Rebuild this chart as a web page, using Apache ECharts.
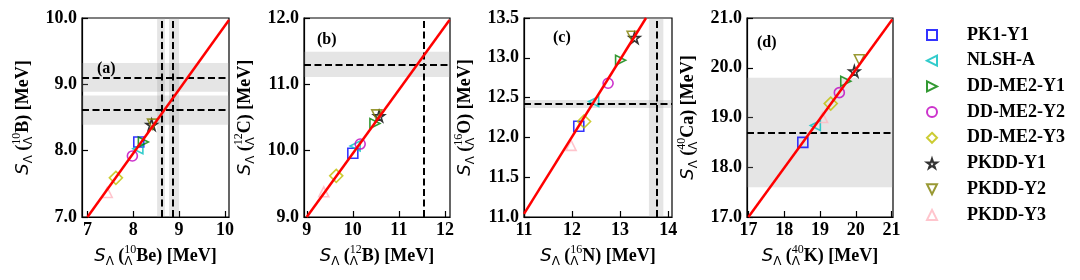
<!DOCTYPE html>
<html><head><meta charset="utf-8">
<script src="https://cdn.jsdelivr.net/npm/echarts@6/dist/echarts.min.js"></script>
<style>html,body{margin:0;padding:0;background:#fff}#c{width:1080px;height:280px}</style>
</head><body><div id="c"></div>
<script>
// ---------- data ----------
const models = ['PK1-Y1','NLSH-A','DD-ME2-Y1','DD-ME2-Y2','DD-ME2-Y3','PKDD-Y1','PKDD-Y2','PKDD-Y3'];
// panel (a): 10Be -> 10B
const aX = [8.12, 8.10, 8.22, 7.98, 7.62, 8.40, 8.42, 7.43];
const aY = [8.13, 8.03, 8.13, 7.92, 7.59, 8.39, 8.40, 7.37];
// panel (b): 12B -> 12C
const bX = [10.00, 10.05, 10.48, 10.16, 9.64, 10.57, 10.52, 9.37];
const bY = [9.96, 10.07, 10.41, 10.10, 9.62, 10.52, 10.54, 9.38];
// panel (c): 16N -> 16O
const cX = [12.14, 12.45, 13.01, 12.75, 12.25, 13.30, 13.25, 11.98];
const cY = [12.14, 12.45, 12.97, 12.68, 12.20, 13.25, 13.27, 11.90];
// panel (d): 40K -> 40Ca
const dX = [18.52, 18.87, 19.72, 19.54, 19.30, 19.96, 20.10, 19.07];
const dY = [18.50, 18.84, 19.73, 19.50, 19.28, 19.93, 20.16, 19.00];
// linear fit lines (endpoints)
const aFit = [[7.00, 7.00], [10.09, 9.97]];
const bFit = [[9.00, 9.00], [12.10, 11.97]];
const cFit = [[11.00, 11.04], [13.54, 13.50]];
const dFit = [[17.00, 17.00], [21.02, 20.97]];
// experimental values (dashed) and uncertainty bands
const aHLines = [9.10, 8.61];  const aHBands = [[8.89, 9.32], [8.39, 8.83]];
const aVLines = [8.63, 8.87];  const aVBands = [[8.52, 8.69], [8.78, 9.00]];
const bHLines = [11.30];       const bHBands = [[11.11, 11.49]];
const bVLines = [11.55];       const bVBands = [];
const cHLines = [12.42];       const cHBands = [[12.37, 12.47]];
const cVLines = [13.76];       const cVBands = [[13.60, 13.90]];
const dHLines = [18.70];       const dHBands = [[17.60, 19.80]];
const dVLines = [];            const dVBands = [];
// axis extents and tick labels
const aXRange = [6.88, 10.09], aYRange = [7, 10];
const bXRange = [8.94, 12.11], bYRange = [9, 12];
const cXRange = [11.0, 14.08], cYRange = [11, 13.5];
const dXRange = [16.96, 21.04], dYRange = [17, 21];
const aXTicks = [7, 8, 9, 10],  aYTicks = [7, 8, 9, 10];
const bXTicks = [9, 10, 11, 12], bYTicks = [9, 10, 11, 12];
const cXTicks = [11, 12, 13, 14], cYTicks = [11, 11.5, 12, 12.5, 13, 13.5];
const dXTicks = [17, 18, 19, 20, 21], dYTicks = [17, 18, 19, 20, 21];
const panelLetters = ['(a)', '(b)', '(c)', '(d)'];
const xNuclei = [['10', 'Be'], ['12', 'B'], ['16', 'N'], ['40', 'K']];
const yNuclei = [['10', 'B'], ['12', 'C'], ['16', 'O'], ['40', 'Ca']];

// ---------- styles ----------
const STAR = 'path://M0,-1 L0.2245,-0.309 L0.951,-0.309 L0.363,0.118 L0.588,0.809 L0,0.382 L-0.588,0.809 L-0.363,0.118 L-0.951,-0.309 L-0.2245,-0.309 Z';
const TRI_UP = 'path://M0,-1 L0.9,0.8 L-0.9,0.8 Z';
const TRI_DOWN = 'path://M0,1 L0.9,-0.8 L-0.9,-0.8 Z';
const TRI_LEFT = 'path://M-1,0 L0.8,-0.9 L0.8,0.9 Z';
const TRI_RIGHT = 'path://M1,0 L-0.8,-0.9 L-0.8,0.9 Z';
const DIAMOND = 'path://M0,-1 L1,0 L0,1 L-1,0 Z';
const markerStyle = [
  {symbol: 'rect', size: 10, color: '#0000ff'},
  {symbol: TRI_LEFT, size: 10, color: '#00bfbf'},
  {symbol: TRI_RIGHT, size: 10, color: '#008000'},
  {symbol: 'circle', size: 10, color: '#bf00bf'},
  {symbol: DIAMOND, size: 13, color: '#bfbf00'},
  {symbol: STAR, size: 11, color: '#000000'},
  {symbol: TRI_DOWN, size: 10, color: '#808000'},
  {symbol: TRI_UP, size: 10, color: '#ffb6c1'}
];
const grids = [
  {left: 82, top: 18, width: 147, height: 199},
  {left: 304, top: 18, width: 146, height: 199},
  {left: 524, top: 18, width: 148, height: 199},
  {left: 747, top: 18, width: 146, height: 199}
];
const letterPos = [[97, 61], [317, 32], [553, 30], [757, 35]];

const panels = [
  {x: aX, y: aY, fit: aFit, hl: aHLines, hb: aHBands, vl: aVLines, vb: aVBands, xr: aXRange, yr: aYRange, xt: aXTicks, yt: aYTicks},
  {x: bX, y: bY, fit: bFit, hl: bHLines, hb: bHBands, vl: bVLines, vb: bVBands, xr: bXRange, yr: bYRange, xt: bXTicks, yt: bYTicks},
  {x: cX, y: cY, fit: cFit, hl: cHLines, hb: cHBands, vl: cVLines, vb: cVBands, xr: cXRange, yr: cYRange, xt: cXTicks, yt: cYTicks},
  {x: dX, y: dY, fit: dFit, hl: dHLines, hb: dHBands, vl: dVLines, vb: dVBands, xr: dXRange, yr: dYRange, xt: dXTicks, yt: dYTicks}
];

const SERIF = 'Liberation Serif';
const rich = {
  s: {fontFamily: 'DejaVu Sans', fontStyle: 'italic', fontSize: 18, color: '#000', lineHeight: 24, align: 'left'},
  sub: {fontFamily: 'DejaVu Sans', fontSize: 12, color: '#000', verticalAlign: 'bottom', lineHeight: 14, align: 'left'},
  t: {fontFamily: SERIF, fontWeight: 'bold', fontSize: 18, color: '#000', lineHeight: 24, align: 'left'},
  sup: {fontFamily: SERIF, fontSize: 12, color: '#000', verticalAlign: 'top', width: 0, align: 'left', lineHeight: 14},
  lam: {fontFamily: 'DejaVu Sans', fontSize: 12, color: '#000', verticalAlign: 'bottom', width: 12, align: 'left', lineHeight: 14}
};
function axisName(n) {
  return '{s|S}{sub|Λ}{t| (}{sup|' + n[0] + '}{lam|Λ}{t|' + n[1] + ') [MeV]}';
}

const xAxes = [], yAxes = [], series = [], graphics = [];
panels.forEach((p, k) => {
  xAxes.push({
    type: 'value', gridIndex: k, min: p.xr[0], max: p.xr[1],
    splitLine: {show: false},
    axisLine: {show: true, onZero: false, lineStyle: {color: '#000', width: 1.2}},
    axisTick: {show: true, inside: true, length: 6, customValues: p.xt, lineStyle: {color: '#000', width: 1.2}},
    axisLabel: {show: true, customValues: p.xt, margin: 4, fontFamily: SERIF, fontWeight: 'bold', fontSize: 18, color: '#000',
      formatter: v => String(Math.round(v))},
    name: axisName(xNuclei[k]), nameLocation: 'middle', nameGap: 27,
    nameTextStyle: {rich: rich}
  });
  yAxes.push({
    type: 'value', gridIndex: k, min: p.yr[0], max: p.yr[1],
    splitLine: {show: false},
    axisLine: {show: true, onZero: false, lineStyle: {color: '#000', width: 1.2}},
    axisTick: {show: true, inside: true, length: 6, customValues: p.yt, lineStyle: {color: '#000', width: 1.2}},
    axisLabel: {show: true, customValues: p.yt, margin: 5, fontFamily: SERIF, fontWeight: 'bold', fontSize: 18, color: '#000',
      formatter: v => v.toFixed(1)},
    name: axisName(yNuclei[k]), nameLocation: 'middle', nameGap: 47, nameRotate: 90,
    nameTextStyle: {rich: rich}
  });
  const areas = [];
  p.hb.forEach(b => areas.push([{yAxis: b[0]}, {yAxis: b[1]}]));
  p.vb.forEach(b => areas.push([{xAxis: b[0]}, {xAxis: b[1]}]));
  const lines = [];
  p.hl.forEach(v => lines.push({yAxis: v}));
  p.vl.forEach(v => lines.push({xAxis: v}));
  series.push({
    type: 'line', xAxisIndex: k, yAxisIndex: k, data: [], z: 1, silent: true,
    markArea: {silent: true, itemStyle: {color: 'rgba(150,150,150,0.25)'}, data: areas},
    markLine: {silent: true, symbol: ['none', 'none'], label: {show: false},
      lineStyle: {type: [7, 3.5], color: '#000', width: 2}, emphasis: {disabled: true}, data: lines}
  });
  models.forEach((m, i) => {
    const st = markerStyle[i];
    series.push({
      name: m, type: 'scatter', xAxisIndex: k, yAxisIndex: k, z: 3,
      data: [[p.x[i], p.y[i]]],
      symbol: st.symbol, symbolSize: st.size,
      itemStyle: {color: 'rgba(255,255,255,0)', borderColor: st.color, borderWidth: 1.6},
      emphasis: {disabled: true}
    });
  });
  series.push({
    type: 'line', xAxisIndex: k, yAxisIndex: k, z: 5, data: p.fit, showSymbol: false, symbol: 'none',
    lineStyle: {color: '#ff0000', width: 2.5}, clip: true, silent: true
  });
  graphics.push({type: 'text', left: letterPos[k][0], top: letterPos[k][1], z: 10,
    style: {text: panelLetters[k], font: 'bold 16px "Liberation Serif"', fill: '#000'}});
});

const chart = echarts.init(document.getElementById('c'), null, {renderer: 'canvas'});
chart.setOption({
  animation: false,
  backgroundColor: '#fff',
  grid: grids.map(g => Object.assign({show: true, borderColor: '#000', borderWidth: 1.2, backgroundColor: 'transparent'}, g)),
  xAxis: xAxes,
  yAxis: yAxes,
  legend: {
    data: models, orient: 'vertical', left: 921, top: 21, itemWidth: 10, itemHeight: 10, itemGap: 7.7,
    selectedMode: false,
    textStyle: {fontFamily: SERIF, fontWeight: 'bold', fontSize: 18, color: '#000', lineHeight: 18, padding: [0, 0, 0, 25]}
  },
  graphic: graphics,
  series: series
});
</script>
</body></html>
